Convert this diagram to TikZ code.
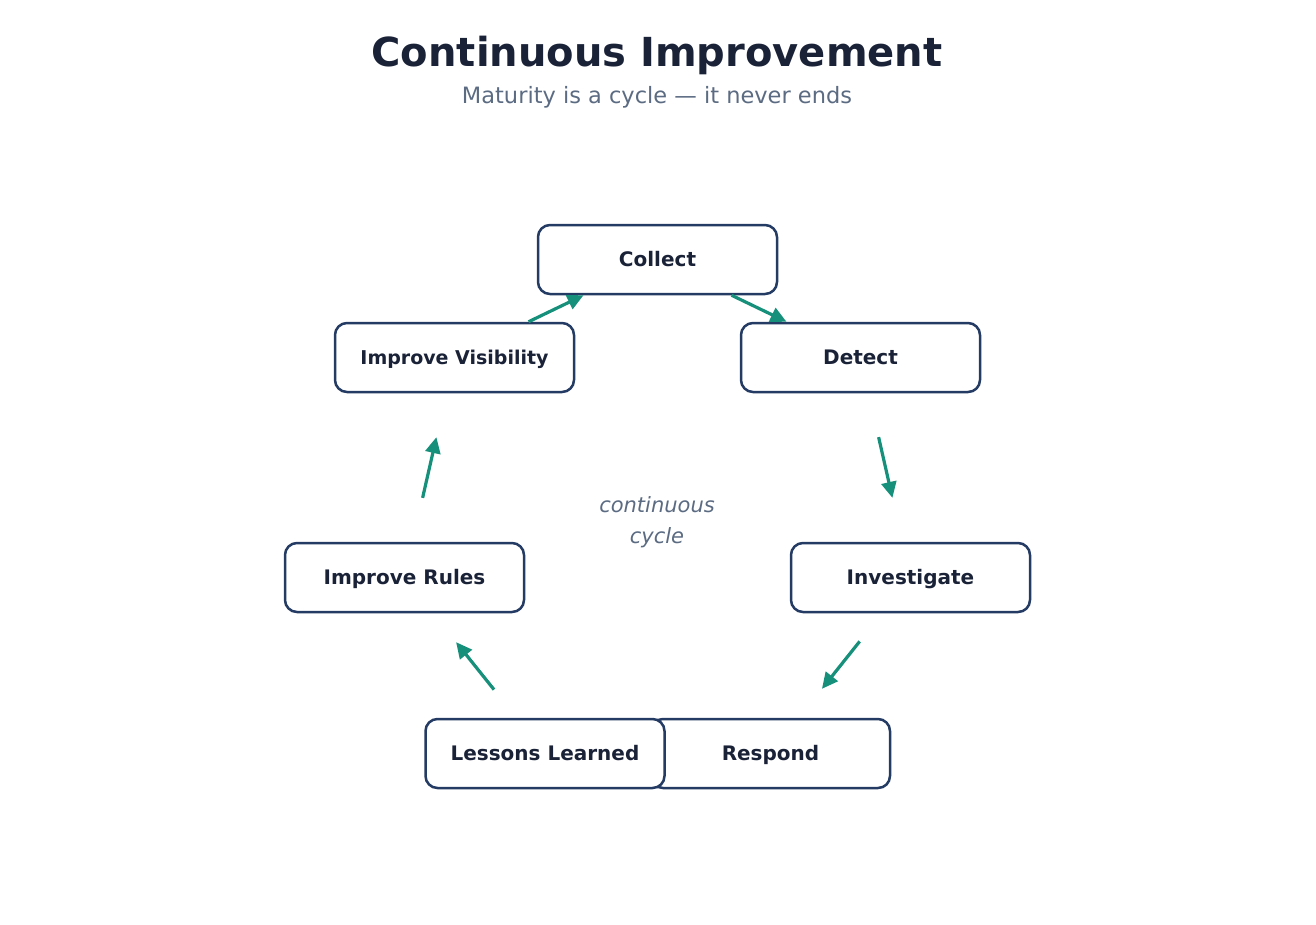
\documentclass[tikz,border=0pt]{standalone}
\usepackage{fontspec}
\setmainfont{DejaVu Sans}
\usetikzlibrary{arrows.meta}
\definecolor{titlecol}{HTML}{1A2238}
\definecolor{subcol}{HTML}{5B6B82}
\definecolor{boxcol}{HTML}{243B63}
\definecolor{arrcol}{HTML}{16907A}
\tikzset{
  stagebox/.style={draw=boxcol, line width=2.5pt, rounded corners=12pt, fill=white,
    minimum width=239pt, minimum height=69pt, inner sep=0pt,
    text=titlecol, font=\fontsize{20}{24}\selectfont\bfseries,
    text height=14.6pt, text depth=0pt},
  flow/.style={draw=arrcol, line width=3.2pt, -{Triangle[length=16pt,width=15pt]}},
}
\begin{document}
\begin{tikzpicture}[x=1pt,y=-1pt]
\useasboundingbox (0,0) rectangle (1316,924);
\node[anchor=base, text=titlecol, font=\fontsize{40}{48}\selectfont\bfseries] (title) at (657,66) {Continuous Improvement};
\node[anchor=base, text=subcol, font=\fontsize{22.5}{27}\selectfont] (subtitle) at (657,103.5) {Maturity is a cycle — it never ends};
\node[align=center, text=subcol, font=\fontsize{21}{31}\selectfont\itshape] (centre) at (657,522.5) {continuous\\cycle};

\node[stagebox] (collect) at (657.5,259.5) {Collect};
\node[stagebox, font=\fontsize{19}{23}\selectfont\bfseries, text height=13.9pt] (vis) at (454.5,357.5) {Improve Visibility};
\node[stagebox] (detect) at (860.5,357.5) {Detect};
\node[stagebox] (rules) at (404.5,577.5) {Improve Rules};
\node[stagebox] (invest) at (910.5,577.5) {Investigate};
\node[stagebox] (respond) at (770.5,753.5) {Respond};
\node[stagebox] (lessons) at (545,753.5) {Lessons Learned};

\draw[flow] (vis) -- (collect);
\draw[flow] (collect) -- (detect);
\draw[flow, shorten <=45pt, shorten >=45pt] (detect) -- (invest);
\draw[flow, shorten <=36pt, shorten >=37pt] (invest) -- (respond);
\draw[flow, shorten <=36pt, shorten >=37pt] (lessons) -- (rules);
\draw[flow, shorten <=45pt, shorten >=45pt] (rules) -- (vis);
\end{tikzpicture}
\end{document}
